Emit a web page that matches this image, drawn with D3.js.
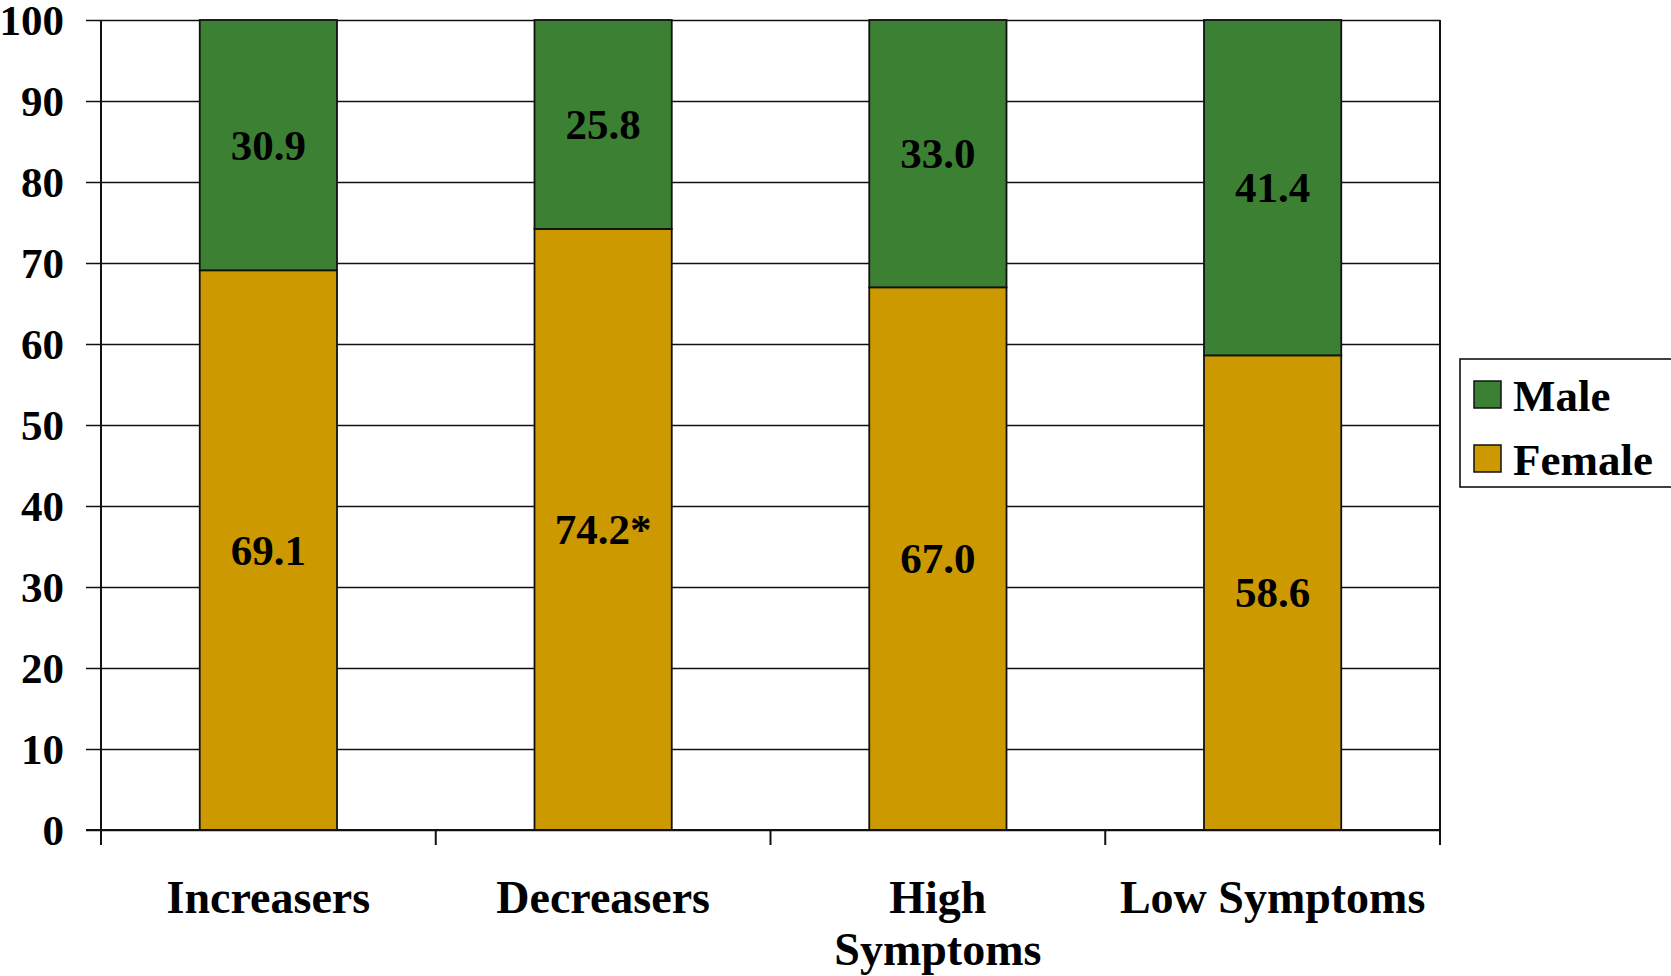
<!DOCTYPE html>
<html>
<head>
<meta charset="utf-8">
<script src="https://cdn.jsdelivr.net/npm/d3@7"></script>
<style>
  body { margin: 0; background: #fff; }
  svg { display: block; font-family: "Liberation Serif", "DejaVu Serif", serif; font-weight: bold; }
</style>
</head>
<body>
<div id="chart"></div>
<script>
const categories = ["Increasers", "Decreasers", "High Symptoms", "Low Symptoms"];
const categoryLines = [["Increasers"], ["Decreasers"], ["High", "Symptoms"], ["Low Symptoms"]];
const female = [69.1, 74.2, 67.0, 58.6];
const male = [30.9, 25.8, 33.0, 41.4];
const femaleLabels = ["69.1", "74.2*", "67.0", "58.6"];
const maleLabels = ["30.9", "25.8", "33.0", "41.4"];
const yTicks = [0, 10, 20, 30, 40, 50, 60, 70, 80, 90, 100];
const seriesNames = ["Female", "Male"];
const legendOrder = ["Male", "Female"];

const width = 1671, height = 976;
const margins = {left: 101, top: 20, right: 231, bottom: 146};
const colors = {Female: "#cc9a00", Male: "#3c8133"};
const serif = "'Liberation Serif', 'DejaVu Serif', serif";

const svg = d3.select("#chart").append("svg")
    .attr("width", width)
    .attr("height", height);

const xScale = d3.scaleBand()
    .domain(categories)
    .range([margins.left, width - margins.right])
    .paddingInner(0.59)
    .paddingOuter(0.295);

const yScale = d3.scaleLinear()
    .domain([0, 100])
    .range([height - margins.bottom, margins.top]);

// gridlines + y ticks
const yAxis = d3.axisLeft(yScale)
    .tickValues(yTicks)
    .tickSize(-(width - margins.right - margins.left) - 15)
    .tickPadding(22)
    .tickFormat(d => d);

svg.append("g")
    .attr("class", "y-axis")
    .attr("transform", `translate(${margins.left - 15}, 0)`)
    .call(yAxis)
    .attr("font-family", serif)
    .attr("font-weight", "bold")
    .call(g => g.select(".domain").remove())
    .call(g => g.selectAll(".tick line").attr("stroke", "#111").attr("stroke-width", 1.6))
    .call(g => g.selectAll(".tick text")
        .attr("font-size", 43)
        .attr("fill", "#000")
        .attr("dy", "0.34em"));

// stacked bars
const rows = categories.map((c, i) => ({category: c, Female: female[i], Male: male[i], i}));
const stacked = d3.stack().keys(seriesNames)(rows);

svg.append("g")
    .selectAll("g")
    .data(stacked)
    .join("g")
    .attr("fill", d => colors[d.key])
    .selectAll("rect")
    .data(d => d)
    .join("rect")
    .attr("x", d => xScale(d.data.category))
    .attr("y", d => yScale(d[1]))
    .attr("width", xScale.bandwidth())
    .attr("height", d => yScale(d[0]) - yScale(d[1]))
    .attr("stroke", "#111")
    .attr("stroke-width", 1.8);

// bar labels
const labelSets = {Female: femaleLabels, Male: maleLabels};
svg.append("g")
    .selectAll("g")
    .data(stacked)
    .join("g")
    .selectAll("text")
    .data(d => d.map(v => ({v, key: d.key})))
    .join("text")
    .attr("x", d => xScale(d.v.data.category) + xScale.bandwidth() / 2)
    .attr("y", d => yScale((d.v[0] + d.v[1]) / 2))
    .attr("dy", "0.34em")
    .attr("text-anchor", "middle")
    .attr("font-size", 43)
    .attr("fill", "#000")
    .text(d => labelSets[d.key][d.v.data.i]);

// plot frame: left axis, right edge
const x0 = margins.left, x1 = width - margins.right, y0 = yScale(0), yTop = yScale(100);
const frame = svg.append("g").attr("stroke", "#111").attr("stroke-width", 2);
frame.append("line").attr("x1", x0).attr("x2", x0).attr("y1", yTop).attr("y2", y0);
frame.append("line").attr("x1", x1).attr("x2", x1).attr("y1", yTop).attr("y2", y0);

// x axis with ticks at band boundaries
const boundaries = d3.range(categories.length + 1).map(i => x0 + i * xScale.step());
const xAxisG = svg.append("g").attr("class", "x-axis");
xAxisG.append("line")
    .attr("x1", x0 - 15).attr("x2", x1)
    .attr("y1", y0).attr("y2", y0)
    .attr("stroke", "#111").attr("stroke-width", 2.2);
xAxisG.selectAll(".xtick")
    .data(boundaries)
    .join("line")
    .attr("class", "xtick")
    .attr("x1", d => d).attr("x2", d => d)
    .attr("y1", y0).attr("y2", y0 + 15)
    .attr("stroke", "#111").attr("stroke-width", 2);

xAxisG.selectAll(".xlabel")
    .data(categories)
    .join("text")
    .attr("class", "xlabel")
    .attr("text-anchor", "middle")
    .attr("font-size", 46)
    .attr("fill", "#000")
    .attr("x", d => xScale(d) + xScale.bandwidth() / 2)
    .attr("y", 913)
    .selectAll("tspan")
    .data((d, i) => categoryLines[i])
    .join("tspan")
    .attr("x", function() { return d3.select(this.parentNode).attr("x"); })
    .attr("dy", (d, i) => i === 0 ? 0 : 52)
    .text(d => d);

// legend
const legend = svg.append("g").attr("transform", "translate(1460, 359)");
legend.append("rect")
    .attr("width", 230).attr("height", 128)
    .attr("fill", "#fff").attr("stroke", "#111").attr("stroke-width", 1.6);
const items = legend.selectAll(".item")
    .data(legendOrder)
    .join("g")
    .attr("class", "item")
    .attr("transform", (d, i) => `translate(14, ${22 + i * 64})`);
items.append("rect")
    .attr("width", 27).attr("height", 27)
    .attr("fill", d => colors[d])
    .attr("stroke", "#111").attr("stroke-width", 1.5);
items.append("text")
    .attr("x", 39).attr("y", 13.5)
    .attr("dy", "0.36em")
    .attr("font-size", 45)
    .attr("fill", "#000")
    .text(d => d);
</script>
</body>
</html>
